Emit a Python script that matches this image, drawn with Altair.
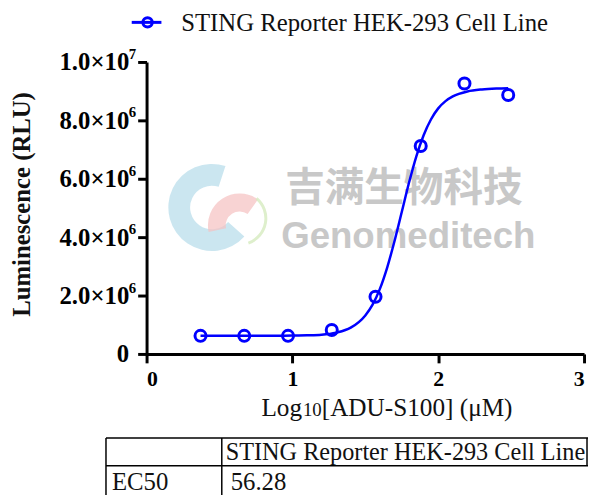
import altair as alt
import pandas as pd

# measured data (log10 concentration, luminescence)
log_conc = [0.37, 0.67, 0.97, 1.27, 1.57, 1.88, 2.18, 2.48]
lum = [0.62e6, 0.62e6, 0.62e6, 0.82e6, 1.96e6, 7.12e6, 9.26e6, 8.87e6]

# fitted curve
curve_x = [0.37, 0.6, 0.8, 1.0, 1.1, 1.2, 1.3, 1.4, 1.5, 1.55, 1.6, 1.65, 1.7,
           1.75, 1.8, 1.85, 1.9, 1.95, 2.0, 2.05, 2.1, 2.2, 2.3, 2.4, 2.48]
curve_y = [0.62e6, 0.62e6, 0.62e6, 0.63e6, 0.64e6, 0.66e6, 0.73e6, 0.90e6, 1.32e6,
           1.69e6, 2.23e6, 2.96e6, 3.86e6, 4.86e6, 5.87e6, 6.77e6, 7.49e6, 8.03e6,
           8.41e6, 8.66e6, 8.82e6, 8.99e6, 9.06e6, 9.09e6, 9.10e6]

x_ticks = [0, 1, 2, 3]
y_ticks = [0, 2e6, 4e6, 6e6, 8e6, 1e7]
y_sup_ticks = [2e6, 4e6, 6e6, 8e6, 1e7]
y_sup_text = ["6", "6", "6", "6", "7"]

series_name = "STING Reporter HEK-293 Cell Line"
table_header = ["", "STING Reporter HEK-293 Cell Line"]
table_row = ["EC50", "56.28"]
y_title = "Luminescence (RLU)"
x_title_parts = ["Log", "10", "[ADU-S100] (μM)"]
wm_cn = "吉满生物科技"
wm_en = "Genomeditech"

BLUE = "#0000ff"
SERIF = "Liberation Serif"

pts = pd.DataFrame({"x": log_conc, "y": lum})
crv = pd.DataFrame({"x": curve_x, "y": curve_y})
sup = pd.DataFrame({"y": y_sup_ticks, "t": y_sup_text})

xs = alt.Scale(domain=[0, 3], nice=False)
ys = alt.Scale(domain=[0, 1e7], nice=False)

x_axis = alt.Axis(values=x_ticks, format="d", title=None, labelPadding=6,
                  labelFontSize=22)
y_axis = alt.Axis(values=y_ticks, title=None, labelPadding=9, labelFontSize=25,
                  labelExpr="datum.value == 0 ? '0' : (datum.value >= 1e7 ? '1.0×10' : format(datum.value/1e6, '.1f') + '×10')")

line = alt.Chart(crv).mark_line(color=BLUE, strokeWidth=2.5, interpolate="monotone").encode(
    x=alt.X("x:Q", scale=xs, axis=x_axis),
    y=alt.Y("y:Q", scale=ys, axis=y_axis),
)
points = alt.Chart(pts).mark_point(shape="circle", filled=False, color=BLUE,
                                   strokeWidth=3, size=125, opacity=1).encode(
    x=alt.X("x:Q", scale=xs), y=alt.Y("y:Q", scale=ys))

sup_txt = alt.Chart(sup).mark_text(font=SERIF, fontWeight="bold", fontSize=15,
                                   align="left", baseline="middle", dy=-8,
                                   color="black").encode(
    x=alt.value(-18), y=alt.Y("y:Q", scale=ys), text="t:N")

one = alt.Data(values=[{"a": 1}])

def txt(t, x, y, size, weight="normal", align="left", baseline="middle",
        font=SERIF, color="#111", angle=0):
    kw = dict(text=t, font=font, fontSize=size, fontWeight=weight, align=align,
              baseline=baseline, color=color)
    if angle:
        kw["angle"] = angle
    return alt.Chart(one).mark_text(**kw).encode(x=alt.value(x), y=alt.value(y))

def rule(x, y, x2=None, y2=None, color="black", width=1.5):
    enc = dict(x=alt.value(x), y=alt.value(y))
    if x2 is not None:
        enc["x2"] = alt.value(x2)
    if y2 is not None:
        enc["y2"] = alt.value(y2)
    return alt.Chart(one).mark_rule(color=color, strokeWidth=width).encode(**enc)

def arc(cx, cy, r0, r1, t0, t1, color, op):
    return alt.Chart(one).mark_arc(innerRadius=r0, outerRadius=r1, theta=t0, theta2=t1,
                                   color=color, opacity=op).encode(
        x=alt.value(cx), y=alt.value(cy))

# axis titles
ytitle = txt(y_title, -126, 144, 25, weight="bold", align="center", angle=270)
xt1 = txt(x_title_parts[0], 116, 358, 25.5, baseline="alphabetic")
xt2 = txt(x_title_parts[1], 158, 358, 19, baseline="alphabetic")
xt3 = txt(x_title_parts[2], 177, 358, 25.5, baseline="alphabetic")

# legend
leg_line = rule(-15, -40, x2=15, color=BLUE, width=3)
leg_pt = alt.Chart(one).mark_point(shape="circle", filled=False, color=BLUE,
                                   strokeWidth=3, size=90, opacity=1).encode(
    x=alt.value(1), y=alt.value(-40))
leg_txt = txt(series_name, 35, -39, 25)

# watermark
logo_b = arc(66, 147, 22, 44, 2.3, 6.6, "#b5dcea", 0.7)
logo_p = arc(94, 165, 14, 32, 4.5, 6.9, "#f5c0c0", 0.7)
logo_g = arc(94, 158, 25, 28, 0.7, 2.8, "#d6ebbf", 0.8)
wm1 = txt(wm_cn, 140, 128, 40, weight="bold", font="Noto Sans CJK SC", color="#c8c8c8")
wm2 = txt(wm_en, 136, 177, 37, weight="bold", font="Liberation Sans", color="#c8c8c8")

# table
t_top = rule(-41, 380, x2=446)
t_mid = rule(-41, 408, x2=446)
t_l = rule(-41, 380, y2=440)
t_d = rule(76, 380, y2=440)
t_r = rule(445, 380, y2=408)
t1 = txt(table_header[1], 80, 395, 24.5)
t2 = txt(table_row[0], -35, 424, 25)
t3 = txt(table_row[1], 85, 424, 25)

chart = alt.layer(logo_b, logo_p, logo_g, wm1, wm2, line, points, sup_txt,
                  ytitle, xt1, xt2, xt3, leg_line, leg_pt, leg_txt,
                  t_top, t_mid, t_l, t_d, t_r, t1, t2, t3).properties(
    width=442, height=295,
    autosize=alt.AutoSizeParams(type="none"),
    padding={"left": 140, "top": 52, "right": 4, "bottom": 140},
).configure_view(stroke=None).configure_axis(
    grid=False, domainColor="black", domainWidth=3, tickColor="black",
    tickWidth=3, tickSize=9, labelFont=SERIF, labelFontWeight="bold",
    labelColor="black", titleColor="black",
)

chart.save("out.html", embed_options={"renderer": "svg", "actions": False})
